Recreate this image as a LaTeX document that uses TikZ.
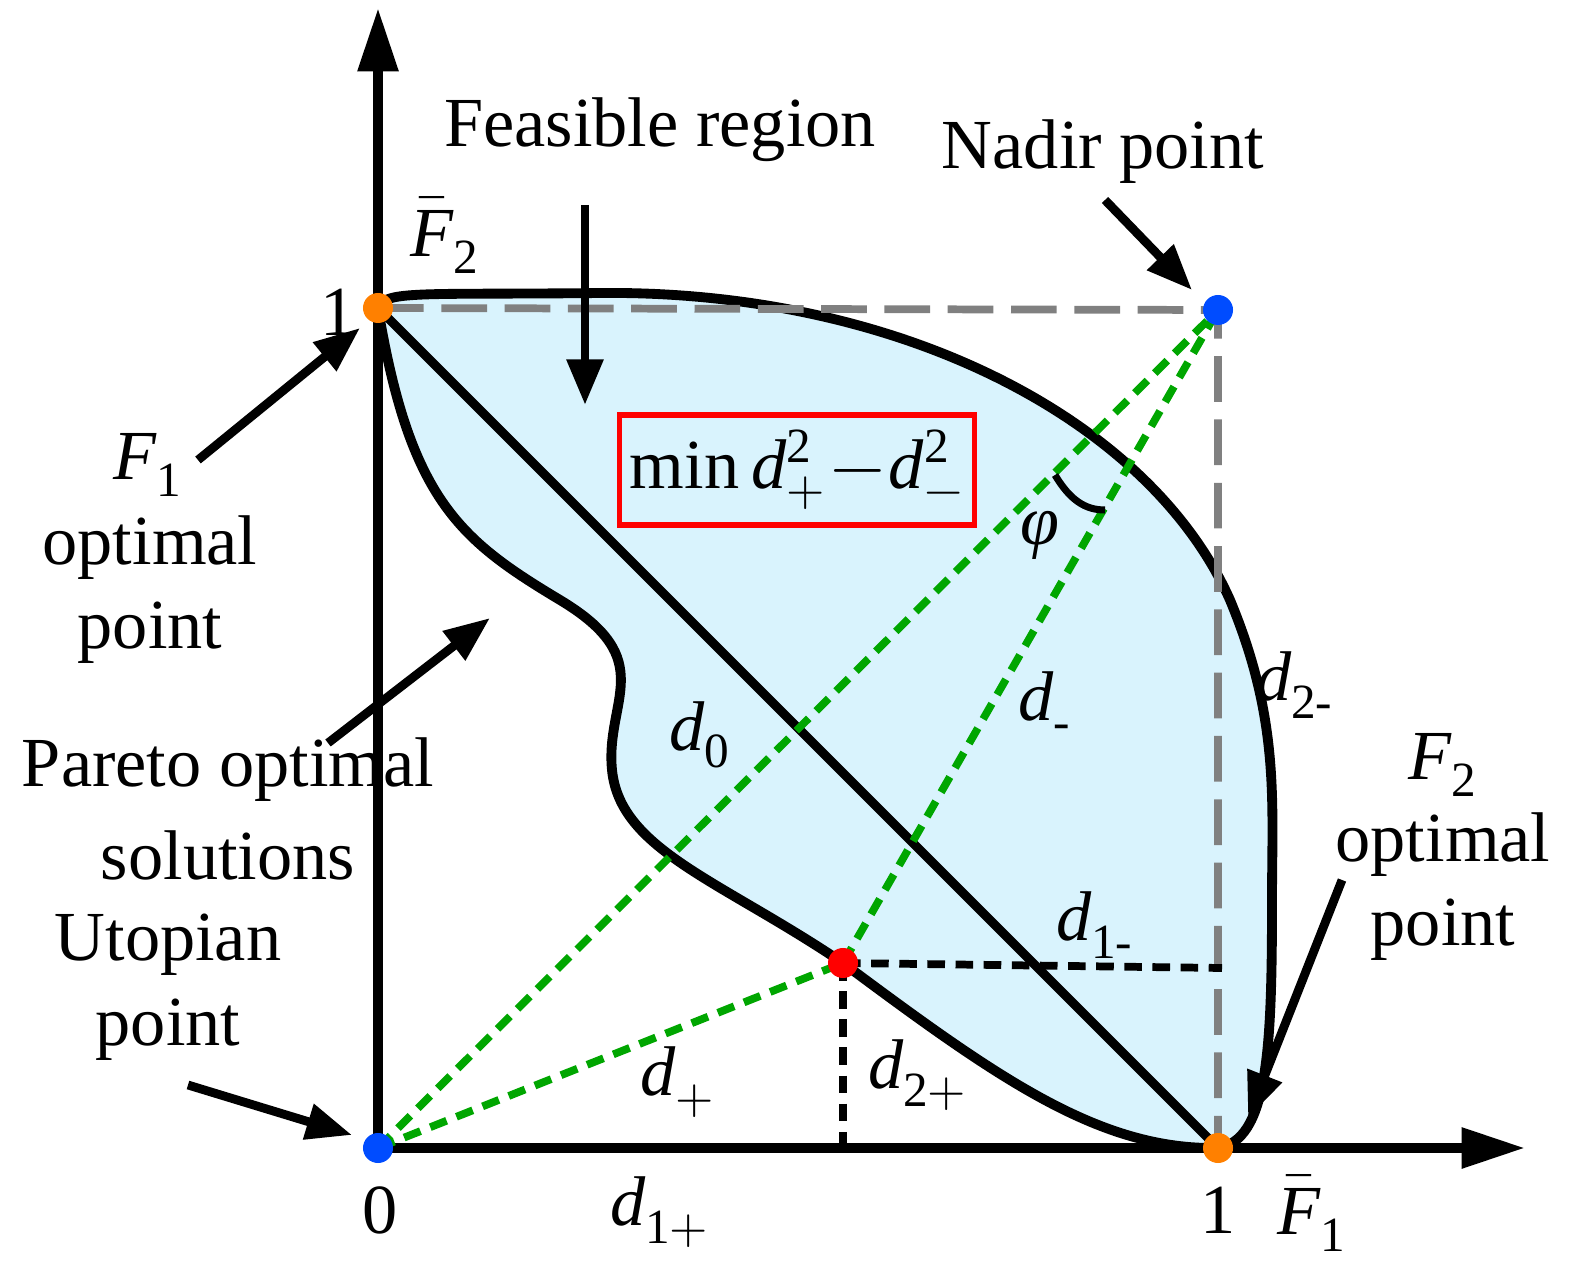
\documentclass[tikz,border=0pt]{standalone}
\usepackage{fontspec}
\setmainfont{Liberation Serif}
\usepackage{unicode-math}
\setmathfont{Latin Modern Math}
\setmathfont[range=it]{Liberation Serif Italic}
\setmathfont[range=up]{Liberation Serif}
\usetikzlibrary{arrows.meta}
\begin{document}
\begin{tikzpicture}[x=0.01cm,y=-0.01cm,
 lab/.style={font=\fontsize{20}{22}\selectfont,inner sep=0pt},
 ax/.style={line width=2.8pt,-{Triangle[length=18pt,width=11pt]}},
 ar/.style={line width=2.5pt,-{Triangle[length=13pt,width=10pt]}},
 gd/.style={draw=green!65!black,line width=2.2pt,dash pattern=on 5pt off 3pt},
 bd/.style={line width=2.2pt,dash pattern=on 5pt off 3pt},
 gr/.style={gray,line width=2.2pt,dash pattern=on 13pt off 5pt},
 pt/.style={circle,inner sep=0pt,minimum size=0.3cm}]
\useasboundingbox (0,0) rectangle (1588,1286);
% region
\filldraw[fill=cyan!15,line width=2.8pt]
 (378,308) .. controls (385,290) and (420,295) .. (600,293)
 .. controls (900,290) and (1150,420) .. (1230,600)
 .. controls (1280,720) and (1272,800) .. (1272,900)
 .. controls (1272,1050) and (1268,1140) .. (1218,1148)
 .. controls (1100,1150) and (1000,1080) .. (843,963)
 .. controls (720,880) and (620,850) .. (612,770)
 .. controls (605,700) and (660,660) .. (560,600)
 .. controls (460,540) and (410,500) .. (378,308) -- cycle;
% axes
\coordinate (O) at (378,1148);
\coordinate (xe) at (1525,1148);
\coordinate (ye) at (378,8);
\draw[ax] (O) -- (xe);
\draw[ax] (O) -- (ye);
\coordinate (N) at (1218,310);
\coordinate (A) at (378,308);
\coordinate (B) at (1218,1148);
\coordinate (R) at (843,963);
\draw[gr] (A) -- (N) -- (B);
\draw[line width=2.6pt] (A) -- (B);
\draw[gd] (O) -- (N);
\draw[gd] (R) -- (N);
\draw[gd] (O) -- (R);
\draw[bd] (R) -- (1222,968);
\draw[bd] (R) -- (843,1148);
\draw[line width=2pt] (1055,475) .. controls (1070,500) and (1085,510) .. (1105,510);
\node[pt,fill=orange] at (A) {};
\node[pt,fill=orange] at (B) {};
\node[pt,fill=blue!70!cyan] at (N) {};
\node[pt,fill=blue!70!cyan] at (O) {};
\node[pt,fill=red] at (R) {};
% arrows
\draw[ar] (585,205) -- (585,405);
\draw[ar] (1105,200) -- (1192,290);
\draw[ar] (198,460) -- (360,328);
\draw[ar] (328,743) -- (490,618);
\draw[ar] (188,1085) -- (352,1135);
\draw[ar] (1342,880) -- (1248,1118);
% texts
\node[draw=red,line width=1.6pt,inner sep=5pt,lab,fill=cyan!15,minimum width=3.55cm,minimum height=1.1cm] at (797,470) {$\min d_+^2\!-\!d_-^2$};
\node[lab] at (660,130) {Feasible region};
\node[lab] at (1103,152) {Nadir point};
\node[lab] at (445,235) {$\bar F_2$};
\node[lab] at (338,312) {1};
\node[lab] at (148,465) {$F_1$};
\node[lab] at (150,548) {optimal};
\node[lab] at (150,633) {point};
\node[lab] at (228,770) {Pareto optimal};
\node[lab] at (228,855) {solutions};
\node[lab] at (168,945) {Utopian};
\node[lab] at (168,1030) {point};
\node[lab] at (380,1210) {0};
\node[lab] at (660,1212) {$d_{1+}$};
\node[lab] at (1218,1210) {1};
\node[lab] at (1312,1213) {$\bar F_1$};
\node[lab] at (700,735) {$d_0$};
\node[lab] at (1040,535) {$\varphi$};
\node[lab] at (1045,705) {$d_{\text{-}}$};
\node[lab] at (1295,685) {$d_{2\text{-}}$};
\node[lab] at (1095,925) {$d_{1\text{-}}$};
\node[lab] at (678,1082) {$d_+$};
\node[lab] at (918,1075) {$d_{2+}$};
\node[lab] at (1443,765) {$F_2$};
\node[lab] at (1443,845) {optimal};
\node[lab] at (1443,930) {point};
\end{tikzpicture}
\end{document}
